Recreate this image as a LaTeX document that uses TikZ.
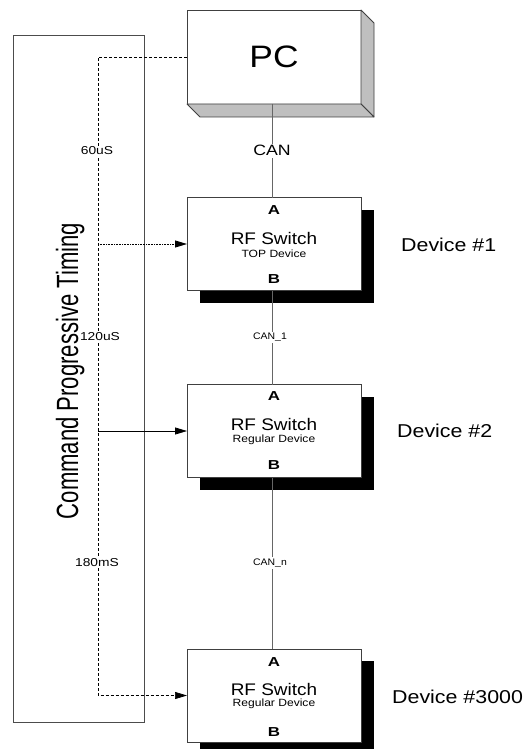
\documentclass[tikz,border=0pt]{standalone}
\usepackage{fontspec}
\setmainfont{Liberation Sans}
\usetikzlibrary{arrows.meta,shadows,calc}
% text set at a given size and widened (or narrowed) horizontally
\newcommand\stretchtext[3]{\scalebox{#1}[1]{\fontsize{#2}{#2}\selectfont #3}}

\begin{document}
\begin{tikzpicture}[x=1pt,y=-1pt,
  face/.style={draw=black!75, fill=white, minimum width=174pt, inner sep=0pt, outer sep=0pt, line width=0.8pt},
  pcbox/.style={face, minimum height=94pt},
  devbox/.style={face, minimum height=93pt,
    general shadow={fill=black, shadow xshift=13pt, shadow yshift=-12pt}},
  sidefill/.style={fill=black!25, draw=black!75, line width=0.8pt, line join=round},
  plain/.style={inner sep=0pt, outer sep=0pt},
  link/.style={draw=black!60, line width=0.8pt},
  linklbl/.style={fill=white, inner sep=1.5pt},
  timelbl/.style={fill=white, inner sep=1pt},
  dashline/.style={line width=0.7pt, dash pattern=on 3pt off 2pt},
  dotline/.style={line width=0.9pt, dash pattern=on 1pt off 0.6pt},
  solidline/.style={line width=0.8pt},
  tip/.style={-{Triangle[length=12pt,width=7pt]}},
  devlbl/.style={anchor=west, inner sep=0pt}
]
% page background
\fill[white] (0,0) rectangle (530,749);
\useasboundingbox (0,0) rectangle (530,749);

% timing frame on the left
\node[draw=black!70, line width=0.8pt, minimum width=131pt, minimum height=687pt, inner sep=0pt] (frame) at (78.5,378.5) {};

% PC with its 3D faces
\node[pcbox] (pc) at (274,57) {\stretchtext{1.14}{31}{PC}};
\filldraw[sidefill] (pc.north east) -- ++(13,13) -- ($(pc.south east)+(13,13)$) -- (pc.south east) -- cycle;
\filldraw[sidefill] (pc.south west) -- ++(13,13) -- ($(pc.south east)+(13,13)$) -- (pc.south east) -- cycle;

% devices
\node[devbox] (d1) at (274,244) {};
\node[devbox] (d2) at (274,431) {};
\node[devbox] (d3) at (274,695.5) {};

\node[plain] (d1a) at ($(d1.north)+(0,13)$) {\stretchtext{1.3}{13}{\bfseries A}};
\node[plain] (d1n) at ($(d1.north)+(0,41)$) {\stretchtext{1.13}{16.8}{RF Switch}};
\node[plain] (d1s) at ($(d1.north)+(0,56)$) {\stretchtext{1.15}{10.5}{TOP Device}};
\node[plain] (d1b) at ($(d1.south)+(0,-11)$) {\stretchtext{1.3}{13}{\bfseries B}};

\node[plain] (d2a) at ($(d2.north)+(0,12)$) {\stretchtext{1.3}{13}{\bfseries A}};
\node[plain] (d2n) at ($(d2.north)+(0,40)$) {\stretchtext{1.13}{16.8}{RF Switch}};
\node[plain] (d2s) at ($(d2.north)+(0,55)$) {\stretchtext{1.15}{10.5}{Regular Device}};
\node[plain] (d2b) at ($(d2.south)+(0,-12)$) {\stretchtext{1.3}{13}{\bfseries B}};

\node[plain] (d3a) at ($(d3.north)+(0,13)$) {\stretchtext{1.3}{13}{\bfseries A}};
\node[plain] (d3n) at ($(d3.north)+(0,40)$) {\stretchtext{1.13}{16.8}{RF Switch}};
\node[plain] (d3s) at ($(d3.north)+(0,55)$) {\stretchtext{1.15}{10.5}{Regular Device}};
\node[plain] (d3b) at ($(d3.south)+(0,-10)$) {\stretchtext{1.3}{13}{\bfseries B}};

\node[devlbl] (l1) at (401,245) {\stretchtext{1.15}{18.6}{Device \#1}};
\node[devlbl] (l2) at (397,431) {\stretchtext{1.15}{18.6}{Device \#2}};
\node[devlbl] (l3) at (392,697) {\stretchtext{1.15}{18.6}{Device \#3000}};

% bus links
\draw[link] ([xshift=-2pt]pc.south) -- ([xshift=-2pt]d1.north)
  node[midway, linklbl] (can0) {\stretchtext{1.18}{15}{CAN}};
\draw[link] ([xshift=-2pt]d1.south) -- ([xshift=-2pt]d2.north)
  node[midway, linklbl, xshift=-2pt] (can1) {\stretchtext{1.1}{9.5}{CAN\_1}};
\draw[link] ([xshift=-2pt]d2.south) -- ([xshift=-2pt]d3.north)
  node[midway, linklbl, xshift=-2pt] (cann) {\stretchtext{1.1}{9.5}{CAN\_n}};

% command timing lines
\coordinate (tl) at (98,57);
\draw[dashline, tip] (pc.west) -- (tl) -- (tl |- d3.west) -- (d3.west);
\draw[dotline, tip] (tl |- d1.west) -- (d1.west);
\draw[solidline, tip] (tl |- d2.west) -- (d2.west);

\node[timelbl] (t1) at (97,151) {\stretchtext{1.2}{11.5}{60uS}};
\node[timelbl] (t2) at (100,337) {\stretchtext{1.2}{11.5}{120uS}};
\node[timelbl] (t3) at (97,563) {\stretchtext{1.2}{11.5}{180mS}};

\node[rotate=90, anchor=base, inner sep=0pt] (cpt) at (78,371)
  {\stretchtext{0.72}{30.7}{Command Progressive Timing}};
\end{tikzpicture}
\end{document}
